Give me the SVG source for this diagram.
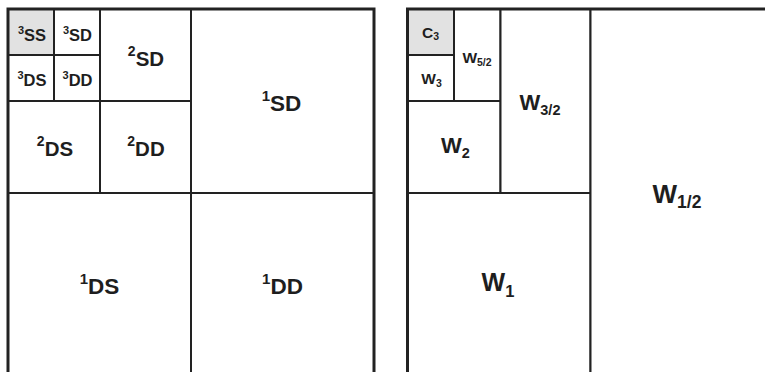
<svg xmlns="http://www.w3.org/2000/svg" width="765" height="372" viewBox="0 0 765 372">
  <style>
    .cell { fill: #ffffff; stroke: #222222; stroke-width: 2; }
    .shade { fill: #e2e2e2; }
    .frame { fill: none; stroke: #222222; stroke-width: 3; }
    text { font-family: "Liberation Sans", Arial, Helvetica, sans-serif; font-weight: bold; fill: #1e1e1e; text-anchor: middle; }
  </style>
  <rect width="765" height="372" fill="#ffffff"/>

  <!-- Left panel: subband decomposition -->
  <g id="left-panel">
    <g id="n-3SS"><rect class="cell shade" x="8" y="9" width="46" height="46"/>
      <text x="32" y="40.5" font-size="16.5"><tspan font-size="11" dy="-7">3</tspan><tspan dy="7">SS</tspan></text></g>
    <g id="n-3SD"><rect class="cell" x="54" y="9" width="46" height="46"/>
      <text x="77.5" y="40.5" font-size="16.5"><tspan font-size="11" dy="-7">3</tspan><tspan dy="7">SD</tspan></text></g>
    <g id="n-3DS"><rect class="cell" x="8" y="55" width="46" height="46"/>
      <text x="32" y="85.5" font-size="16.5"><tspan font-size="11" dy="-7">3</tspan><tspan dy="7">DS</tspan></text></g>
    <g id="n-3DD"><rect class="cell" x="54" y="55" width="46" height="46"/>
      <text x="77.5" y="85.5" font-size="16.5"><tspan font-size="11" dy="-7">3</tspan><tspan dy="7">DD</tspan></text></g>
    <g id="n-2SD"><rect class="cell" x="100" y="9" width="91" height="92"/>
      <text x="146" y="65.5" font-size="20.5"><tspan font-size="14" dy="-10">2</tspan><tspan dy="10">SD</tspan></text></g>
    <g id="n-2DS"><rect class="cell" x="8" y="101" width="92" height="92"/>
      <text x="55" y="155.5" font-size="20.5"><tspan font-size="14" dy="-10">2</tspan><tspan dy="10">DS</tspan></text></g>
    <g id="n-2DD"><rect class="cell" x="100" y="101" width="91" height="92"/>
      <text x="146" y="155.5" font-size="20.5"><tspan font-size="14" dy="-10">2</tspan><tspan dy="10">DD</tspan></text></g>
    <g id="n-1SD"><rect class="cell" x="191" y="9" width="183" height="184"/>
      <text x="281.5" y="111" font-size="22.5"><tspan font-size="15" dy="-10.5">1</tspan><tspan dy="10.5">SD</tspan></text></g>
    <g id="n-1DS"><rect class="cell" x="8" y="193" width="183" height="190"/>
      <text x="99.5" y="294" font-size="22.5"><tspan font-size="15" dy="-10.5">1</tspan><tspan dy="10.5">DS</tspan></text></g>
    <g id="n-1DD"><rect class="cell" x="191" y="193" width="183" height="190"/>
      <text x="282.5" y="294" font-size="22.5"><tspan font-size="15" dy="-10.5">1</tspan><tspan dy="10.5">DD</tspan></text></g>
  </g>

  <!-- Right panel: weighting of the subbands -->
  <g id="right-panel">
    <g id="n-C3"><rect class="cell shade" x="407.5" y="9" width="46.5" height="46"/>
      <text x="430.5" y="37.5" font-size="15.5">C<tspan font-size="10.5" dy="2">3</tspan></text></g>
    <g id="n-W3"><rect class="cell" x="407.5" y="55" width="46.5" height="46"/>
      <text x="431.5" y="84" font-size="15.5">W<tspan font-size="10.5" dy="3">3</tspan></text></g>
    <g id="n-W52"><rect class="cell" x="454" y="9" width="46.5" height="92"/>
      <text x="477" y="63" font-size="15.5">W<tspan font-size="10.5" dy="2.5">5/2</tspan></text></g>
    <g id="n-W2"><rect class="cell" x="407.5" y="101" width="93" height="92"/>
      <text x="455.5" y="153" font-size="22">W<tspan font-size="14.5" dy="5">2</tspan></text></g>
    <g id="n-W32"><rect class="cell" x="500.5" y="9" width="90" height="184"/>
      <text x="540" y="110" font-size="22">W<tspan font-size="14.5" dy="5">3/2</tspan></text></g>
    <g id="n-W1"><rect class="cell" x="407.5" y="193" width="183" height="190"/>
      <text x="498" y="291" font-size="25">W<tspan font-size="16.5" dy="5.5">1</tspan></text></g>
    <g id="n-W12"><rect class="cell" x="590.5" y="9" width="200" height="380"/>
      <text x="677" y="203" font-size="26">W<tspan font-size="17.5" dy="5">1/2</tspan></text></g>
  </g>

  <!-- heavier outer borders -->
  <g id="connectors">
    <path class="frame" d="M8,380 V9 H374 V380"/>
    <path class="frame" d="M407.5,380 V9 H770"/>
  </g>
</svg>
